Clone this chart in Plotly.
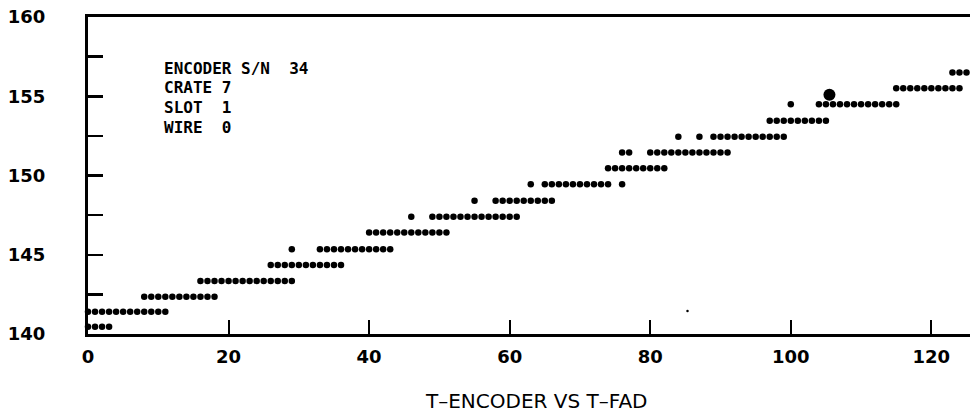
import plotly.graph_objects as go

# ---- data ----
levels = [140.45, 141.4, 142.35, 143.35, 144.35, 145.35, 146.4, 147.4, 148.4,
          149.45, 150.45, 151.45, 152.45, 153.45, 154.5, 155.5, 156.5]

x_by_level = [
    [0, 1, 2, 3],
    [0, 1, 2, 3, 4, 5, 6, 7, 8, 9, 10, 11],
    [8, 9, 10, 11, 12, 13, 14, 15, 16, 17, 18],
    [16, 17, 18, 19, 20, 21, 22, 23, 24, 25, 26, 27, 28, 29],
    [26, 27, 28, 29, 30, 31, 32, 33, 34, 35, 36],
    [33, 34, 35, 36, 37, 38, 39, 40, 41, 42, 43],
    [40, 41, 42, 43, 44, 45, 46, 47, 48, 49, 50, 51],
    [49, 50, 51, 52, 53, 54, 55, 56, 57, 58, 59, 60, 61],
    [58, 59, 60, 61, 62, 63, 64, 65, 66],
    [65, 66, 67, 68, 69, 70, 71, 72, 73, 74],
    [74, 75, 76, 77, 78, 79, 80, 81, 82],
    [80, 81, 82, 83, 84, 85, 86, 87, 88, 89, 90, 91],
    [89, 90, 91, 92, 93, 94, 95, 96, 97, 98, 99],
    [97, 98, 99, 100, 101, 102, 103, 104, 105],
    [104, 105, 106, 107, 108, 109, 110, 111, 112, 113, 114, 115],
    [115, 116, 117, 118, 119, 120, 121, 122, 123, 124],
    [123, 124, 125, 126],
]

isolated_x = [29, 46, 55, 63, 76, 76, 77, 84, 87, 100]
isolated_y = [145.35, 147.4, 148.4, 149.45, 149.45, 151.45, 151.45, 152.45, 152.45, 154.5]

big_x = [105.5]
big_y = [155.1]

speck_x = [85.3]
speck_y = [141.45]

info_lines = ["ENCODER S/N  34", "CRATE 7", "SLOT  1", "WIRE  0"]
x_title = "T\u2013ENCODER VS T\u2013FAD"

x_ticks = [0, 20, 40, 60, 80, 100, 120]
y_ticks = [140, 145, 150, 155, 160]

# ---- build traces ----
xs, ys = [], []
for lv, xl in zip(levels, x_by_level):
    xs.extend(xl)
    ys.extend([lv] * len(xl))
xs.extend(isolated_x)
ys.extend(isolated_y)

fig = go.Figure()
fig.add_trace(go.Scatter(x=xs, y=ys, mode="markers",
                         marker=dict(size=6.5, color="black"),
                         cliponaxis=False, showlegend=False))
fig.add_trace(go.Scatter(x=big_x, y=big_y, mode="markers",
                         marker=dict(size=12, color="black"),
                         cliponaxis=False, showlegend=False))
fig.add_trace(go.Scatter(x=speck_x, y=speck_y, mode="markers",
                         marker=dict(size=2.5, color="black"),
                         cliponaxis=False, showlegend=False))

tick_font = dict(family="DejaVu Sans", size=18, color="black", weight="bold")

fig.update_xaxes(range=[0, 125.5], showgrid=False, zeroline=False,
                 showline=True, linewidth=3, linecolor="black", mirror=True,
                 ticks="inside", ticklen=14, tickwidth=2, tickcolor="black",
                 tickvals=x_ticks, ticktext=[str(v) for v in x_ticks],
                 tickfont=tick_font, ticklabelstandoff=4)
fig.update_yaxes(range=[140, 160], showgrid=False, zeroline=False,
                 showline=True, linewidth=3, linecolor="black",
                 ticks="inside", ticklen=15, tickwidth=2.5, tickcolor="black",
                 tickvals=y_ticks, ticktext=[str(v) for v in y_ticks],
                 minor=dict(dtick=2.5, tick0=140, ticks="inside", ticklen=15,
                            tickwidth=2.5, tickcolor="black", showgrid=False),
                 tickfont=tick_font, ticklabelstandoff=36)

info_y = [156.78, 155.55, 154.32, 153.06]
for txt, yy in zip(info_lines, info_y):
    fig.add_annotation(x=10.5, y=yy, xref="x", yref="y", text=txt,
                       showarrow=False, xanchor="left", yanchor="middle",
                       font=dict(family="DejaVu Sans Mono", size=16,
                                 color="black", weight="bold"))

fig.add_annotation(x=0.508, y=-0.211, xref="paper", yref="paper", text=x_title,
                   showarrow=False, xanchor="center", yanchor="middle",
                   font=dict(family="DejaVu Sans", size=20, color="black"))

fig.update_layout(width=970, height=412,
                  margin=dict(l=88, r=0, t=17, b=78),
                  plot_bgcolor="white", paper_bgcolor="white",
                  hovermode=False)

# remove the browser's default page margin so the figure fills the window
fig.write_html("out.html",
               config={"displayModeBar": False, "staticPlot": True},
               post_script="document.body.style.margin='0';"
                           "document.body.style.overflow='hidden';")
